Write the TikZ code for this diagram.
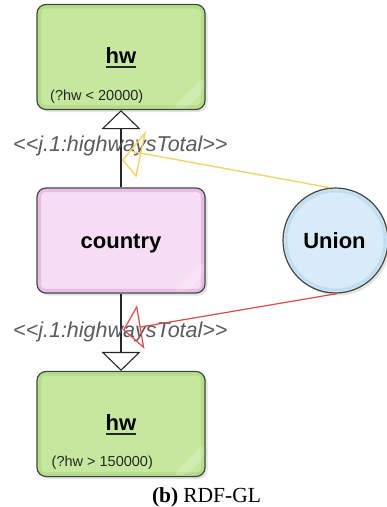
\documentclass[tikz,border=0pt]{standalone}
\usepackage{fontspec}
\setmainfont{Liberation Sans}
\newfontfamily\capfont{Liberation Serif}
\usetikzlibrary{arrows.meta,shadows,calc}

\definecolor{greenfill}{HTML}{C6E89E}
\definecolor{greenband}{HTML}{B4DD88}
\definecolor{pinkfill}{HTML}{F6DDF4}
\definecolor{pinkband}{HTML}{E9BBE7}
\definecolor{bluefill}{HTML}{D8EBF8}
\definecolor{blueband}{HTML}{C2DDF2}
\definecolor{outline}{HTML}{3E453C}
\definecolor{tagcolor}{HTML}{5A5A5A}
\definecolor{unionyellow}{HTML}{F2D36A}
\definecolor{unionred}{HTML}{E0474C}

\begin{document}
\begin{tikzpicture}[x=1pt,y=-1pt,
  softshadow/.style={drop shadow={shadow xshift=2.5pt, shadow yshift=-2.5pt, opacity=0.22}},
  classbox/.style={rectangle, rounded corners=9pt, draw=outline, line width=1.2pt,
    minimum width=168pt, minimum height=105pt, softshadow,
    path picture={
      \draw[#1, line width=3pt, rounded corners=6pt]
        ([shift={(2.6pt,2.6pt)}]path picture bounding box.south west) rectangle
        ([shift={(-2.6pt,-2.6pt)}]path picture bounding box.north east);
      \fill[white, opacity=0.18]
        ([shift={(-34pt,0pt)}]path picture bounding box.south east) --
        ([shift={(0pt,34pt)}]path picture bounding box.south east) --
        ([shift={(0pt,20pt)}]path picture bounding box.south east) --
        ([shift={(-20pt,0pt)}]path picture bounding box.south east) -- cycle;
    }},
  unionnode/.style={circle, draw=outline, line width=1.2pt, fill=bluefill,
    minimum size=105pt, softshadow,
    path picture={
      \draw[blueband, line width=3pt]
        (path picture bounding box.center) circle[radius=49.5pt];
    }},
  title/.style={inner sep=0pt, font=\bfseries\fontsize{22}{26}\selectfont, text=black},
  cond/.style={inner sep=0pt, font=\fontsize{14.5}{17}\selectfont, text=black!85},
  tag/.style={inner sep=0pt, font=\itshape\fontsize{21.5}{25}\selectfont, text=tagcolor},
  uline/.style={line width=2.4pt, black!85},
  edge/.style={line width=1.1pt, black!85,
    -{Triangle[open, length=19pt, width=39pt, line width=1.1pt]}},
]
\useasboundingbox (0,0) rectangle (387,507);

% class boxes
\node[classbox=greenband, fill=greenfill] (hwA) at (121,57) {};
\node[classbox=pinkband, fill=pinkfill] (country) at (121,240.5) {};
\node[classbox=greenband, fill=greenfill] (hwB) at (121,424) {};
\node[unionnode] (union) at (335.5,240.5) {};

% box texts
\node[title, anchor=base] (hwAt) at (121,63.3) {hw};
\draw[uline] ($(hwAt.base west)+(0,3.6)$) -- ($(hwAt.base east)+(0,3.6)$);
\node[cond, anchor=base west] (hwAc) at (50,100) {(?hw < 20000)};

\node[title, anchor=base] (countryt) at (121,248.3) {country};
\node[title, anchor=base] (uniont) at (334.5,248.3) {Union};

\node[title, anchor=base] (hwBt) at (121,430.5) {hw};
\draw[uline] ($(hwBt.base west)+(0,3.6)$) -- ($(hwBt.base east)+(0,3.6)$);
\node[cond, anchor=base west] (hwBc) at (51.5,466.5) {(?hw > 150000)};

% property edges
\draw[edge] (country.north) -- (hwA.south);
\draw[edge] (country.south) -- (hwB.north);

% edge labels
\node[tag, anchor=base west] (tagA) at (13,151.7) {<{}<j.1:highwaysTotal>{}>};
\node[tag, anchor=base west] (tagB) at (13,337.5) {<{}<j.1:highwaysTotal>{}>};

% union links
\coordinate (yEnd) at (132,151.5);
\draw[unionyellow, line width=1.4pt] (union.96) -- (yEnd);
\draw[unionyellow, line width=1.4pt, line join=miter] (145,133) -- (123,160) -- (136,176) -- cycle;

\coordinate (rTip) at (123,330);
\draw[unionred, line width=1.2pt,
  -{Triangle[open, length=18pt, width=44pt, line width=1.2pt]}] (union.-88) -- (rTip);

% caption
\node[anchor=base, inner sep=0pt, font=\capfont\fontsize{21.5}{25}\selectfont] (cap)
  at (206.5,502.5) {\textbf{(b)}\hspace{5pt}RDF-GL};
\end{tikzpicture}
\end{document}
